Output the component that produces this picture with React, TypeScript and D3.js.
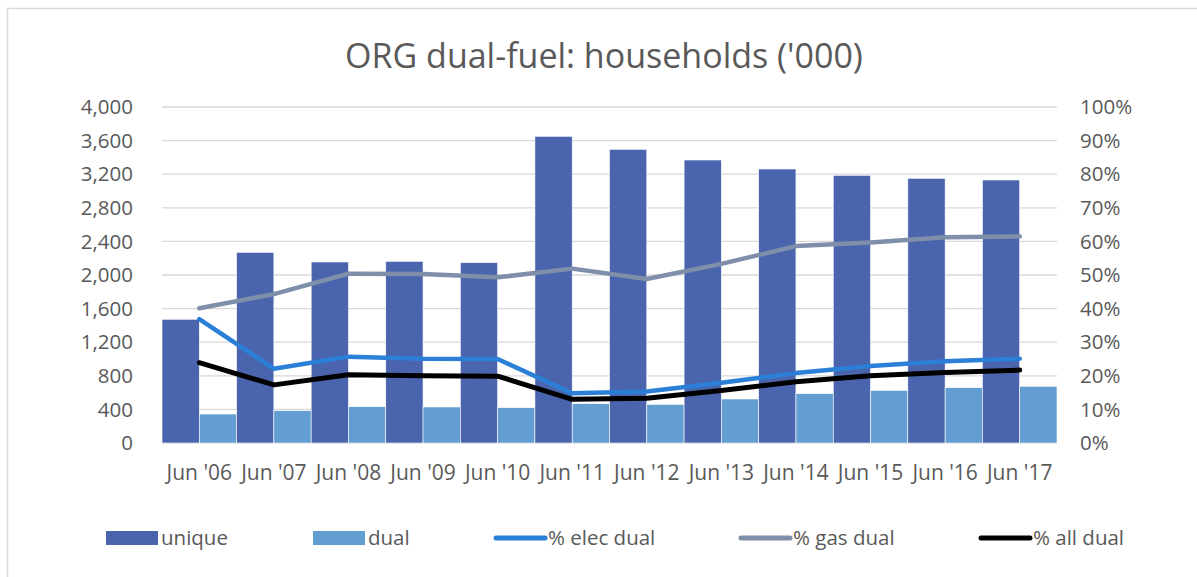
import React from "react";
import * as d3 from "d3";

// chart data
const categories = ["Jun '06", "Jun '07", "Jun '08", "Jun '09", "Jun '10", "Jun '11", "Jun '12", "Jun '13", "Jun '14", "Jun '15", "Jun '16", "Jun '17"];
const unique = [1473, 2270, 2155, 2163, 2147, 3651, 3496, 3369, 3262, 3187, 3151, 3131];
const dual = [345, 385, 432, 429, 421, 468, 460, 524, 587, 627, 659, 675];
const elecDual = [36.9, 22.1, 25.7, 25.1, 25.0, 14.8, 15.3, 17.9, 20.8, 22.9, 24.3, 25.1];
const gasDual = [40.1, 44.3, 50.4, 50.3, 49.3, 51.9, 48.8, 53.3, 58.6, 59.7, 61.2, 61.5];
const allDual = [23.9, 17.3, 20.3, 20.0, 19.9, 13.0, 13.3, 15.6, 18.2, 20.0, 21.0, 21.7];
const leftTicks = [0, 400, 800, 1200, 1600, 2000, 2400, 2800, 3200, 3600, 4000];
const rightTicks = [0, 10, 20, 30, 40, 50, 60, 70, 80, 90, 100];

const W = 1197;
const H = 577;
const FONT = "'Open Sans', Lato, sans-serif";
const TEXT = "#595959";

const margin = { left: 162, right: 1057, top: 107, bottom: 443 };

export default function App() {
  const x = d3.scaleBand().domain(categories).range([margin.left, margin.right]).padding(0);
  const sub = d3.scaleBand().domain(["unique", "dual"]).range([0, x.bandwidth()]).padding(0);
  const y = d3.scaleLinear().domain([0, 4000]).range([margin.bottom, margin.top]);
  const y2 = d3.scaleLinear().domain([0, 100]).range([margin.bottom, margin.top]);
  const fmt = d3.format(",");

  const line = d3
    .line<number>()
    .x((_, i) => x(categories[i])! + x.bandwidth() / 2)
    .y((d) => y2(d));

  const lines = [
    { name: "% elec dual", data: elecDual, color: "#2b7fd6", width: 4.5 },
    { name: "% gas dual", data: gasDual, color: "#7f8faa", width: 4.5 },
    { name: "% all dual", data: allDual, color: "#000000", width: 5 },
  ];

  // legend layout
  const legend = [
    { name: "unique", kind: "bar", color: "#4a65ad", x: 106 },
    { name: "dual", kind: "bar", color: "#629ed2", x: 313 },
    { name: "% elec dual", kind: "line", color: "#2b7fd6", x: 493 },
    { name: "% gas dual", kind: "line", color: "#7f8faa", x: 738 },
    { name: "% all dual", kind: "line", color: "#000000", x: 978 },
  ];

  return (
    <svg width={W} height={H} style={{ display: "block", position: "absolute", left: 0, top: 0 }} fontFamily={FONT}>
      <rect x={0} y={0} width={W} height={H} fill="#fff" />
      <rect x={7.5} y={8.5} width={W + 20} height={H + 20} fill="#fff" stroke="#d9d9d9" strokeWidth={1.5} />

      <text x={604} y={68} textAnchor="middle" fontSize={34} fill={TEXT}>
        ORG dual-fuel: households ('000)
      </text>

      {/* gridlines */}
      {leftTicks.map((t) => (
        <line key={t} x1={margin.left} x2={margin.right} y1={y(t)} y2={y(t)} stroke="#d9d9d9" strokeWidth={1.3} />
      ))}

      {/* left axis */}
      {leftTicks.map((t) => (
        <text key={t} x={133} y={y(t)} dy="0.35em" textAnchor="end" fontSize={20.5} fill={TEXT}>
          {fmt(t)}
        </text>
      ))}

      {/* right axis */}
      {rightTicks.map((t) => (
        <text key={t} x={1080} y={y2(t)} dy="0.35em" textAnchor="start" fontSize={20.5} fill={TEXT}>
          {t}%
        </text>
      ))}

      {/* bars */}
      {categories.map((c, i) => (
        <g key={c}>
          <rect x={x(c)! + sub("unique")!} y={y(unique[i])} width={sub.bandwidth()} height={y(0) - y(unique[i])} fill="#4a65ad" stroke="#fff" strokeWidth={0.6} />
          <rect x={x(c)! + sub("dual")!} y={y(dual[i])} width={sub.bandwidth()} height={y(0) - y(dual[i])} fill="#629ed2" stroke="#fff" strokeWidth={0.6} />
        </g>
      ))}

      {/* lines */}
      {lines.map((l) => (
        <path key={l.name} d={line(l.data)!} fill="none" stroke={l.color} strokeWidth={l.width} strokeLinecap="round" strokeLinejoin="round" />
      ))}

      {/* x labels */}
      {categories.map((c) => (
        <text key={c} x={x(c)! + x.bandwidth() / 2} y={480} textAnchor="middle" fontSize={21} fill={TEXT}>
          {c}
        </text>
      ))}

      {/* legend */}
      {legend.map((l) => (
        <g key={l.name}>
          {l.kind === "bar" ? (
            <rect x={l.x} y={531} width={52} height={14} fill={l.color} />
          ) : (
            <line x1={l.x + 3} x2={l.x + 52} y1={538} y2={538} stroke={l.color} strokeWidth={5} strokeLinecap="round" />
          )}
          <text x={l.x + 55} y={538} dy="0.35em" fontSize={20.5} fill={TEXT}>
            {l.name}
          </text>
        </g>
      ))}
    </svg>
  );
}
